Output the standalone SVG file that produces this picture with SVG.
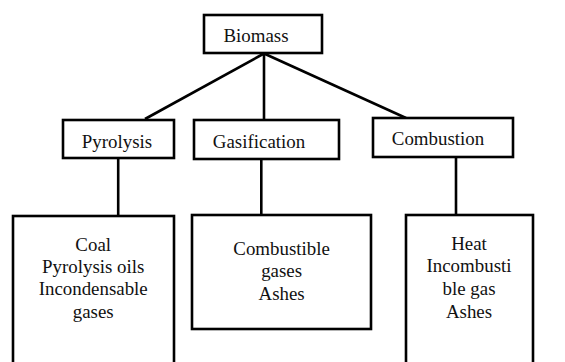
<svg xmlns="http://www.w3.org/2000/svg" width="565" height="362" viewBox="0 0 565 362">
<style>
.box{fill:#fff;stroke:#000;stroke-width:2.6}
.conn line{stroke:#000;stroke-width:2.6;stroke-linecap:butt}
.t{font-family:'Liberation Serif','Times New Roman',serif;font-size:18.9px;fill:#111;text-anchor:middle}
</style>
<rect width="565" height="362" fill="#fff"/>
<g id="connectors" class="conn">
<line x1="264" y1="53.5" x2="145" y2="119"/>
<line x1="264" y1="53.5" x2="264" y2="120"/>
<line x1="264" y1="53.5" x2="406" y2="118"/>
<line x1="118.2" y1="158" x2="118.2" y2="216"/>
<line x1="261.3" y1="159" x2="261.3" y2="215"/>
<line x1="456" y1="157" x2="456" y2="215"/>
</g>
<g id="biomass"><rect class="box" x="204" y="15" width="118" height="38"/><text class="t" x="256" y="41.5">Biomass</text></g>
<g id="pyrolysis"><rect class="box" x="63" y="120" width="111" height="38"/><text class="t" x="117" y="147.7">Pyrolysis</text></g>
<g id="gasification"><rect class="box" x="194" y="120" width="145" height="39"/><text class="t" x="259" y="147.7">Gasification</text></g>
<g id="combustion"><rect class="box" x="373" y="118" width="140" height="39"/><text class="t" x="438" y="145">Combustion</text></g>
<g id="pyrolysis-products"><rect class="box" x="13" y="216" width="161" height="160"/>
<text class="t" x="93.2" y="251">Coal</text><text class="t" x="93.2" y="273.3">Pyrolysis oils</text><text class="t" x="93.2" y="295.4">Incondensable</text><text class="t" x="93.2" y="317.6">gases</text></g>
<g id="gasification-products"><rect class="box" x="192" y="215" width="179" height="114"/>
<text class="t" x="281.6" y="254.8">Combustible</text><text class="t" x="281.6" y="277">gases</text><text class="t" x="281.6" y="300">Ashes</text></g>
<g id="combustion-products"><rect class="box" x="406" y="215" width="127" height="160"/>
<text class="t" x="469" y="250.2">Heat</text><text class="t" x="469" y="272.3">Incombusti</text><text class="t" x="469" y="294.5">ble gas</text><text class="t" x="469" y="317.6">Ashes</text></g>
</svg>
